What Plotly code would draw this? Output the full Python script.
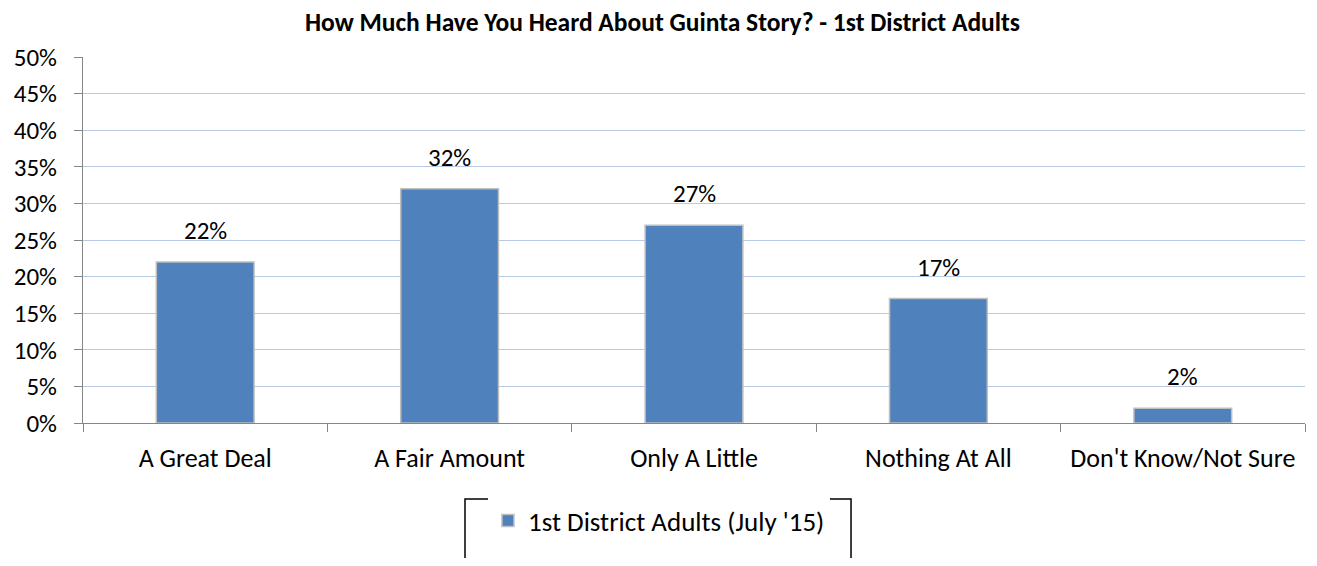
import plotly.graph_objects as go

categories = ["A Great Deal", "A Fair Amount", "Only A Little", "Nothing At All", "Don't Know/Not Sure"]
values = [22, 32, 27, 17, 2]
series_name = "1st District Adults (July '15)"
title = "How Much Have You Heard About Guinta Story? - 1st District Adults"

FONT = "Carlito, Lato, sans-serif"
TXT = 25

# the page body has an 8px margin all round, so keep the page exactly 1317x566
W, H = 1309, 550

fig = go.Figure()
fig.add_trace(go.Bar(
    x=categories,
    y=values,
    name=series_name,
    width=0.4,
    marker=dict(color="#4f81bd", line=dict(color="#bfbfbf", width=1.5)),
))

# data labels sit a bit above the bars, like the original
for c, v in zip(categories, values):
    fig.add_annotation(x=c, y=v, text=f"{v}%", showarrow=False, yanchor="bottom",
                       yshift=14, font=dict(size=TXT, color="black", family=FONT))

# legend frame (wider than plotly's own legend border)
fig.add_shape(type="rect", xref="paper", yref="paper", x0=0.3126, x1=0.6285, y0=-0.2078, y1=-0.40,
              line=dict(color="black", width=1.5), fillcolor="rgba(0,0,0,0)", layer="above")

fig.update_layout(
    width=W, height=H,
    margin=dict(l=75, r=12, t=49, b=116),
    paper_bgcolor="white", plot_bgcolor="white",
    font=dict(family=FONT, color="black", size=TXT),
    title=dict(text=f"<b>{title}</b>", x=0.5, xanchor="center", y=0.99, yanchor="top",
               font=dict(size=25.5, family=FONT)),
    showlegend=True,
    legend=dict(orientation="h", x=0.3314, xanchor="left", y=-0.2675, yanchor="middle",
                borderwidth=0, font=dict(size=27), itemwidth=30),
    bargap=0.6,
)

fig.update_yaxes(range=[0, 50], dtick=5, ticksuffix="%", showgrid=True, gridcolor="#b8c9e6",
                 gridwidth=1, showline=True, linecolor="#868686", ticks="outside",
                 tickcolor="#868686", ticklen=8, zeroline=False, tickfont=dict(size=TXT),
                 ticklabelstandoff=12, automargin=False)
fig.update_xaxes(showline=True, linecolor="#868686", ticks="outside", tickson="boundaries",
                 tickcolor="#868686", ticklen=8, showgrid=False, tickfont=dict(size=26),
                 ticklabelstandoff=12, automargin=False)

fig.write_html("out.html")
